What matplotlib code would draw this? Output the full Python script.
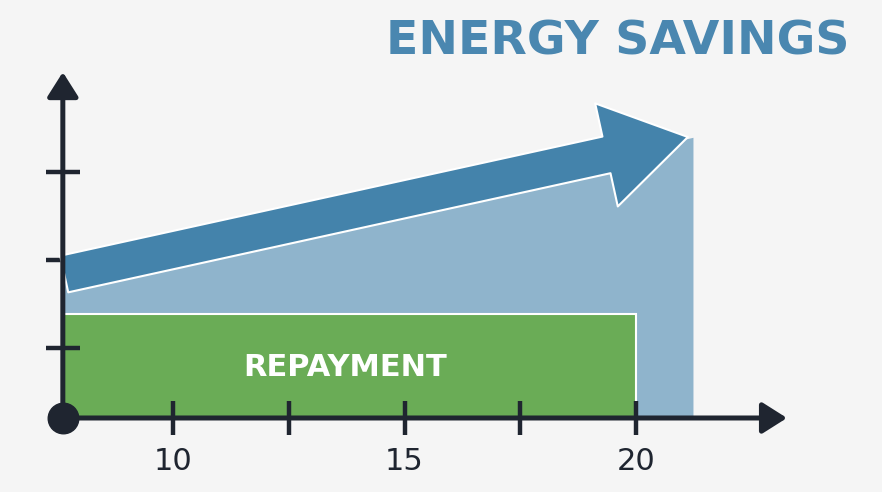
import matplotlib.pyplot as plt

# data (years on x, arbitrary savings units on y)
x_origin = 7.62
savings_x = [x_origin, 21.23]
savings_top = [1.55, 3.19]
repay_end = 20
repay_height = 1.18
trend_start = (7.65, 1.636)
trend_end = (21.12, 3.193)
x_ticks = [10, 12.5, 15, 17.5, 20]
x_labels = ["10", "", "15", "", "20"]
y_ticks = [0.8, 1.8, 2.8]

bg = "#f5f5f5"
dark = "#1f2530"
blue = "#4483ab"
title_blue = "#4a87b0"
light_blue = "#8fb4cc"
green = "#6aac56"

fig = plt.figure(figsize=(8.82, 4.92), dpi=100)
fig.patch.set_facecolor(bg)
ax = fig.add_axes([0, 0, 1, 1])
ax.set_facecolor(bg)
ax.set_xlim(6.263, 25.313)
ax.set_ylim(-0.841, 4.75)
ax.set_axisbelow(False)  # ticks above the blocks, below the trend arrow

# light blue savings area
ax.fill_between(savings_x, 0, savings_top, color=light_blue, lw=0, zorder=1)

# repayment block
ax.bar(x_origin, repay_height, width=repay_end - x_origin, align="edge",
       color=green, edgecolor="white", linewidth=1.5, zorder=2)
ax.text((x_origin + repay_end) / 2 - 0.1, repay_height / 2 - 0.02, "REPAYMENT",
        color="white", fontsize=22, fontweight="bold", ha="center", va="center", zorder=3)

# trend arrow
ax.annotate("", xy=trend_end, xytext=trend_start,
            arrowprops=dict(arrowstyle="simple,head_length=60,head_width=76,tail_width=27",
                            mutation_scale=1, fc=blue, ec="white", lw=1.5,
                            shrinkA=0, shrinkB=0), zorder=3)

# axes drawn as arrows
for tip in [(23.26, 0), (x_origin, 3.93)]:
    ax.annotate("", xy=tip, xytext=(x_origin, 0),
                arrowprops=dict(arrowstyle="-|>,head_length=1.5,head_width=0.95",
                                mutation_scale=10, lw=3.6, color=dark,
                                shrinkA=0, shrinkB=0), zorder=4)
ax.plot([x_origin], [0], "o", ms=22, color=dark, zorder=6, clip_on=False)

for s in ax.spines.values():
    s.set_visible(False)
ax.spines["left"].set_position(("data", x_origin))
ax.spines["bottom"].set_position(("data", 0))

ax.set_xticks(x_ticks, x_labels)
ax.set_yticks(y_ticks, [])
ax.tick_params(axis="both", direction="inout", length=24, width=3.2, color=dark,
               labelsize=22, labelcolor=dark, pad=9)

fig.text(850 / 882, 1 - 42 / 492, "ENERGY SAVINGS", color=title_blue,
         fontsize=34, fontweight="bold", ha="right", va="center")

fig.savefig("out.png", dpi=100, facecolor=bg)
